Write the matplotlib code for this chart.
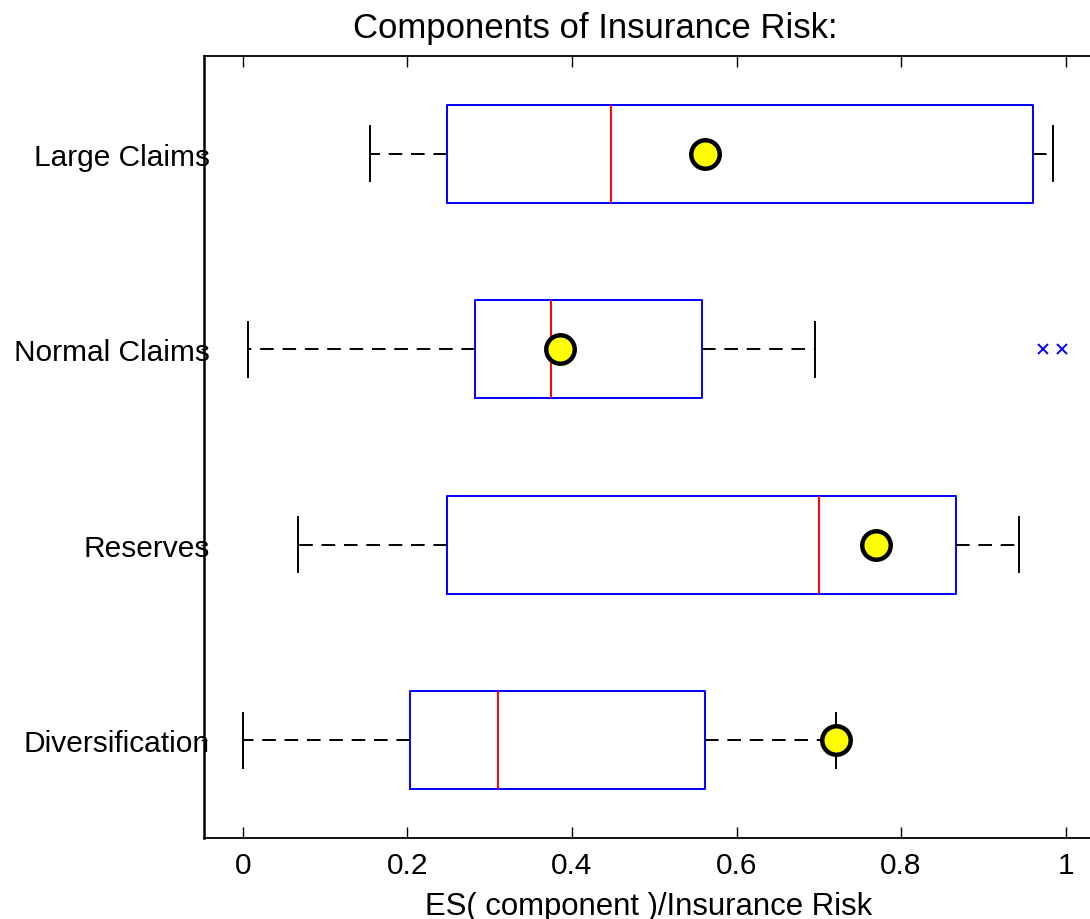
import numpy as np
import matplotlib
matplotlib.use('Agg')
import matplotlib.pyplot as plt

plt.rcParams['font.family'] = ['Liberation Sans', 'DejaVu Sans']

# components, bottom to top
labels = ['Diversification', 'Reserves', 'Normal Claims', 'Large Claims']
whislo = [0.000, 0.067, 0.006, 0.154]
q1 = [0.203, 0.248, 0.282, 0.248]
med = [0.310, 0.700, 0.375, 0.448]
q3 = [0.562, 0.867, 0.558, 0.960]
whishi = [0.721, 0.943, 0.696, 0.985]
means = [0.721, 0.770, 0.386, 0.562]
fliers = [[], [], [0.972, 0.996], []]

stats = []
for i in range(len(labels)):
    stats.append(dict(label=labels[i], whislo=whislo[i], q1=q1[i], med=med[i],
                      q3=q3[i], whishi=whishi[i], mean=means[i],
                      fliers=np.array(fliers[i])))

fig = plt.figure(figsize=(10.9, 9.2), dpi=100)
ax = fig.add_axes([0.187, 0.088, 0.817, 0.85])

pos = np.arange(1, len(labels) + 1)
ax.bxp(stats, positions=pos, vert=False, widths=0.5, capwidths=0.28,
       showmeans=False,
       boxprops=dict(color='blue', linewidth=1.4),
       medianprops=dict(color='red', linewidth=1.4),
       whiskerprops=dict(color='black', linestyle=(0, (7, 4.5)), linewidth=1.4),
       capprops=dict(color='black', linewidth=1.4),
       flierprops=dict(marker='x', markeredgecolor='blue', markersize=7.5,
                       markeredgewidth=1.4, linestyle='none'))

ax.plot(means, pos, 'o', color='yellow', markeredgecolor='black',
        markersize=20.5, markeredgewidth=3.2, zorder=5, clip_on=False)

ax.set_xlim(-0.0475, 1.035)
ax.set_ylim(0.5, 4.5)
ax.set_xticks([0, 0.2, 0.4, 0.6, 0.8, 1])
ax.set_xticklabels(['0', '0.2', '0.4', '0.6', '0.8', '1'])
ax.set_yticks(pos)
ax.set_yticklabels(labels)

ax.tick_params(axis='x', direction='in', length=8, width=1, labelsize=21.5,
               top=True, pad=9)
ax.tick_params(axis='y', direction='inout', length=5, width=1, labelsize=21.5,
               pad=-7)
for s in ['left', 'bottom', 'top']:
    ax.spines[s].set_linewidth(1.3)
ax.spines['left'].set_linewidth(1.8)

ax.set_xlabel('ES( component )/Insurance Risk', fontsize=22.4, labelpad=9)
ax.set_title('Components of Insurance Risk:', fontsize=25, pad=14, x=0.44)

fig.savefig('out.png', dpi=100)
